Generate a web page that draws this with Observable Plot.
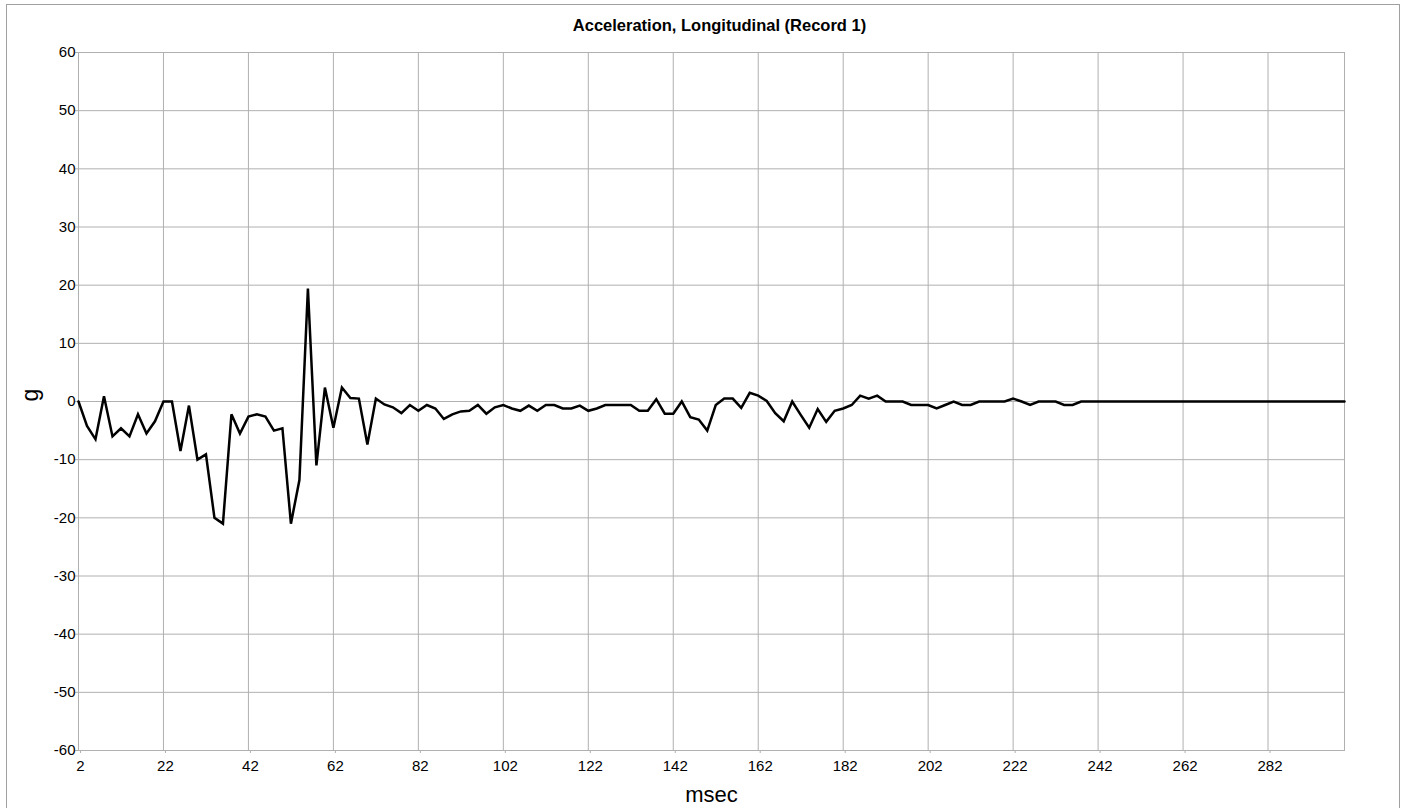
<!DOCTYPE html>
<html>
<head>
<meta charset="utf-8">
<script src="https://cdn.jsdelivr.net/npm/d3@7"></script>
<script src="https://cdn.jsdelivr.net/npm/@observablehq/plot@0.6"></script>
<style>
  html, body { margin: 0; padding: 0; background: #fff; overflow: hidden; }
  #wrap { position: relative; width: 1407px; height: 808px; overflow: hidden; }
  #border { position: absolute; left: 6px; top: 4px; width: 1394px; height: 830px; border: 1px solid #a0a0a0; border-bottom: none; box-sizing: border-box; pointer-events: none; }
  #chart { position: absolute; left: 0; top: 0; }
</style>
</head>
<body>
<div id="wrap"><div id="border"></div><div id="chart"></div></div>
<script>
const title = "Acceleration, Longitudinal (Record 1)";
const xLabel = "msec";
const yLabel = "g";
const xTicks = [2, 22, 42, 62, 82, 102, 122, 142, 162, 182, 202, 222, 242, 262, 282];
const yTicks = [-60, -50, -40, -30, -20, -10, 0, 10, 20, 30, 40, 50, 60];
const msec = [
  2, 4, 6, 8, 10, 12, 14, 16, 18, 20, 22, 24, 26, 28, 30, 32, 34, 36, 38, 40,
  42, 44, 46, 48, 50, 52, 54, 56, 58, 60, 62, 64, 66, 68, 70, 72, 74, 76, 78, 80,
  82, 84, 86, 88, 90, 92, 94, 96, 98, 100, 102, 104, 106, 108, 110, 112, 114, 116, 118, 120,
  122, 124, 126, 128, 130, 132, 134, 136, 138, 140, 142, 144, 146, 148, 150, 152, 154, 156, 158, 160,
  162, 164, 166, 168, 170, 172, 174, 176, 178, 180, 182, 184, 186, 188, 190, 192, 194, 196, 198, 200,
  202, 204, 206, 208, 210, 212, 214, 216, 218, 220, 222, 224, 226, 228, 230, 232, 234, 236, 238, 240,
  242, 244, 246, 248, 250, 252, 254, 256, 258, 260, 262, 264, 266, 268, 270, 272, 274, 276, 278, 280,
  282, 284, 286, 288, 290, 292, 294, 296, 298, 300
];
const gValues = [
  0, -4.2, -6.5, 0.9, -6.0, -4.6, -6.0, -2.2, -5.5, -3.4, 0, 0, -8.5, -0.7, -10, -9.1, -20, -21, -2.2, -5.5,
  -2.6, -2.2, -2.6, -5.0, -4.6, -21, -13.5, 19.4, -11.0, 2.4, -4.5, 2.4, 0.6, 0.5, -7.4, 0.5, -0.5, -1.0, -2.0, -0.6,
  -1.6, -0.6, -1.2, -3.0, -2.2, -1.7, -1.6, -0.6, -2.1, -1.0, -0.6, -1.2, -1.6, -0.7, -1.6, -0.6, -0.6, -1.2, -1.2, -0.7,
  -1.6, -1.2, -0.6, -0.6, -0.6, -0.6, -1.6, -1.6, 0.4, -2.1, -2.1, 0, -2.7, -3.1, -5.0, -0.6, 0.5, 0.5, -1.1, 1.5,
  1.0, 0.1, -2.0, -3.4, 0, -2.3, -4.5, -1.3, -3.5, -1.6, -1.2, -0.6, 1.0, 0.5, 1.0, 0, 0, 0, -0.6, -0.6,
  -0.6, -1.2, -0.6, 0, -0.6, -0.6, 0, 0, 0, 0, 0.5, 0, -0.6, 0, 0, 0, -0.6, -0.6, 0, 0,
  0, 0, 0, 0, 0, 0, 0, 0, 0, 0, 0, 0, 0, 0, 0, 0, 0, 0, 0, 0,
  0, 0, 0, 0, 0, 0, 0, 0, 0, 0
];
const data = msec.map((m, i) => ({msec: m, g: gValues[i]}));
const gridColor = "#b0b0b0";

const chart = Plot.plot({
  width: 1407,
  height: 808,
  marginLeft: 78,
  marginRight: 63,
  marginTop: 52,
  marginBottom: 58,
  style: {fontFamily: "'Liberation Sans', Arial, sans-serif", fontSize: "15px", color: "#000", background: "transparent"},
  x: {domain: [2, 300], label: null},
  y: {domain: [-60, 60], label: null},
  marks: [
    Plot.gridX(xTicks, {stroke: gridColor, strokeOpacity: 1}),
    Plot.gridY(yTicks, {stroke: gridColor, strokeOpacity: 1}),
    Plot.frame({stroke: gridColor}),
    Plot.axisX(xTicks, {tickSize: 3, tickPadding: 7, stroke: gridColor, fill: "#000", fontSize: 15, dx: 2, tickFormat: d => String(d), label: null}),
    Plot.axisY(yTicks, {tickSize: 3, tickPadding: 0, stroke: gridColor, fill: "#000", fontSize: 15, tickFormat: d => String(d), label: null}),
    Plot.line(data, {x: "msec", y: "g", stroke: "#000", strokeWidth: 2.5, strokeLinejoin: "miter", strokeMiterlimit: 4}),
    Plot.text([title], {frameAnchor: "top", lineAnchor: "middle", dy: -27, dx: 8, fontWeight: "bold", fontSize: 16.5, fill: "#000"}),
    Plot.text([xLabel], {frameAnchor: "bottom", lineAnchor: "middle", dy: 44, fontSize: 22, fill: "#000"}),
    Plot.text([yLabel], {frameAnchor: "left", lineAnchor: "middle", dx: -48, rotate: -90, fontSize: 23, fill: "#000"})
  ]
});
document.getElementById("chart").appendChild(chart);
</script>
</body>
</html>
